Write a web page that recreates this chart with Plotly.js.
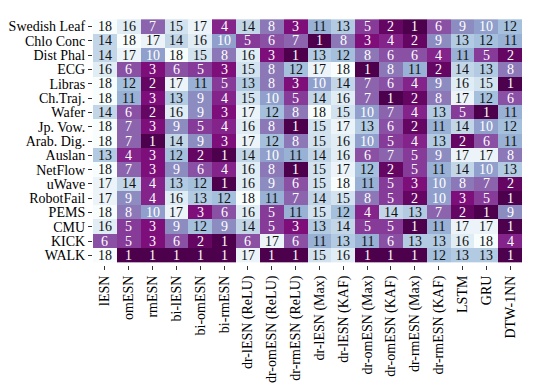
<!DOCTYPE html>
<html>
<head>
<meta charset="utf-8">
<script src="https://cdn.plot.ly/plotly-3.0.1.min.js"></script>
<style>body{margin:0;background:#fff}</style>
</head>
<body>
<div id="graph" style="width:540px;height:386px"></div>
<script>
var models = ['lESN', 'omESN', 'rmESN', 'bi-lESN', 'bi-omESN', 'bi-rmESN',
  'dr-lESN (ReLU)', 'dr-omESN (ReLU)', 'dr-rmESN (ReLU)', 'dr-lESN (Max)', 'dr-lESN (KAF)',
  'dr-omESN (Max)', 'dr-omESN (KAF)', 'dr-rmESN (Max)', 'dr-rmESN (KAF)', 'LSTM', 'GRU', 'DTW-1NN'];
var datasets = ['Swedish Leaf', 'Chlo Conc', 'Dist Phal', 'ECG', 'Libras', 'Ch.Traj.', 'Wafer',
  'Jp. Vow.', 'Arab. Dig.', 'Auslan', 'NetFlow', 'uWave', 'RobotFail', 'PEMS', 'CMU', 'KICK', 'WALK'];

// rank of each model on each dataset
var ranks = [
  [18, 16, 7, 15, 17, 4, 14, 8, 3, 11, 13, 5, 2, 1, 6, 9, 10, 12],
  [14, 18, 17, 14, 16, 10, 5, 6, 7, 1, 8, 3, 4, 2, 9, 13, 12, 11],
  [14, 17, 10, 18, 15, 8, 16, 3, 1, 13, 12, 8, 6, 6, 4, 11, 5, 2],
  [16, 6, 3, 6, 5, 3, 15, 8, 12, 17, 18, 1, 8, 11, 2, 14, 13, 8],
  [18, 12, 2, 17, 11, 5, 13, 8, 3, 10, 14, 7, 6, 4, 9, 16, 15, 1],
  [18, 11, 3, 13, 9, 4, 15, 10, 5, 14, 16, 7, 1, 2, 8, 17, 12, 6],
  [14, 6, 2, 16, 9, 3, 17, 12, 8, 18, 15, 10, 7, 4, 13, 5, 1, 11],
  [18, 7, 3, 9, 5, 4, 16, 8, 1, 15, 17, 13, 6, 2, 11, 14, 10, 12],
  [18, 7, 1, 14, 9, 3, 17, 12, 8, 15, 16, 10, 5, 4, 13, 2, 6, 11],
  [13, 4, 3, 12, 2, 1, 14, 10, 11, 14, 16, 6, 7, 5, 9, 17, 17, 8],
  [18, 7, 3, 9, 6, 4, 16, 8, 1, 15, 17, 12, 2, 5, 11, 14, 10, 13],
  [17, 14, 4, 13, 12, 1, 16, 9, 6, 15, 18, 11, 5, 3, 10, 8, 7, 2],
  [17, 9, 4, 16, 13, 12, 18, 11, 7, 14, 15, 8, 5, 2, 10, 3, 5, 1],
  [18, 8, 10, 17, 3, 6, 16, 5, 11, 15, 12, 4, 14, 13, 7, 2, 1, 9],
  [16, 5, 3, 9, 12, 9, 14, 5, 3, 13, 14, 5, 5, 1, 11, 17, 17, 1],
  [6, 5, 3, 6, 2, 1, 6, 17, 6, 11, 13, 11, 6, 13, 13, 16, 18, 4],
  [18, 1, 1, 1, 1, 1, 17, 1, 1, 15, 16, 1, 1, 1, 12, 13, 13, 1]
];

// BuPu reversed: 1 = dark purple, 18 = almost white
var bupu = [
  [0, '#4d004b'], [0.125, '#810f7c'], [0.25, '#88419d'], [0.375, '#8c6bb1'],
  [0.5, '#8c96c6'], [0.625, '#9ebcda'], [0.75, '#bfd3e6'], [0.875, '#e0ecf4'], [1, '#f7fcfd']
];

var serif = 'Times New Roman, Liberation Serif, serif';

var trace = {
  type: 'heatmap',
  x: models,
  y: datasets,
  z: ranks,
  zmin: 1,
  zmax: 18,
  colorscale: bupu,
  showscale: false
};

var notes = [];
for (var i = 0; i < datasets.length; i++) {
  for (var j = 0; j < models.length; j++) {
    var v = ranks[i][j];
    notes.push({
      x: models[j], y: datasets[i], text: String(v), showarrow: false,
      font: {family: serif, size: 14, color: v <= 10 ? '#ffffff' : '#111111'}
    });
  }
}

var layout = {
  margin: {l: 93, r: 18, t: 17, b: 121},
  paper_bgcolor: '#fff',
  plot_bgcolor: '#fff',
  font: {family: serif, size: 14, color: '#000'},
  xaxis: {tickangle: -90, ticks: 'outside', ticklen: 4, tickcolor: '#333', showgrid: false, zeroline: false,
    tickmode: 'array', tickvals: models, ticktext: models, tickfont: {family: serif, size: 14}},
  yaxis: {autorange: 'reversed', ticks: 'outside', ticklen: 4, tickcolor: '#333', showgrid: false, zeroline: false,
    tickmode: 'array', tickvals: datasets, ticktext: datasets, tickfont: {family: serif, size: 14}},
  annotations: notes
};

Plotly.newPlot('graph', [trace], layout, {displayModeBar: false, staticPlot: true});
</script>
</body>
</html>
